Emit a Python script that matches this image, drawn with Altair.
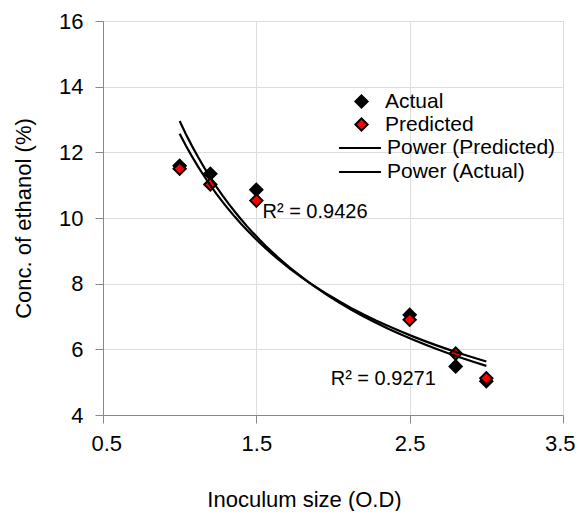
import altair as alt
import pandas as pd

# ---- data ----
inoculum = [1.0, 1.2, 1.5, 2.5, 2.8, 3.0]
actual = [11.59, 11.35, 10.86, 7.05, 5.48, 5.03]
predicted = [11.50, 11.02, 10.53, 6.90, 5.87, 5.12]

series_names = ["Actual", "Predicted"]
trend_names = ["Power (Predicted)", "Power (Actual)"]

r2_labels = ["R² = 0.9426", "R² = 0.9271"]
r2_x = [1.54, 1.985]
r2_y = [10.19, 5.09]

x_ticks = [0.5, 1.5, 2.5, 3.5]
y_ticks = [4, 6, 8, 10, 12, 14, 16]

rows = []
for name, vals in zip(series_names, [actual, predicted]):
    for xv, yv in zip(inoculum, vals):
        rows.append({"series": name, "x": xv, "y": yv})
df = pd.DataFrame(rows)
ann = pd.DataFrame({"x": r2_x, "y": r2_y, "label": r2_labels})

FONT = "Liberation Sans"

xenc = alt.X(
    "x:Q",
    scale=alt.Scale(domain=[0.5, 3.5], nice=False, zero=False),
    axis=alt.Axis(
        values=x_ticks, format=".1f", title="Inoculum size (O.D)",
        tickSize=8, labelPadding=10, labelFontSize=22, titleFontSize=22,
        titleX=201, titleY=91, titleBaseline="alphabetic", titleFontWeight="normal",
        labelFlush=True, labelFlushOffset=12,
    ),
)
yenc = alt.Y(
    "y:Q",
    scale=alt.Scale(domain=[4, 16], nice=False, zero=False),
    axis=alt.Axis(
        values=y_ticks, title="Conc. of  ethanol (%)",
        tickSize=8, labelPadding=12, labelFontSize=22, titleFontSize=22,
        titlePadding=23, titleFontWeight="normal",
    ),
)

base = alt.Chart(df)

points = base.mark_point(
    shape="diamond", filled=True, stroke="black", strokeWidth=2, size=150, opacity=1
).encode(
    x=xenc,
    y=yenc,
    fill=alt.Fill(
        "series:N",
        scale=alt.Scale(domain=series_names, range=["black", "red"]),
        legend=alt.Legend(
            title=None, orient="none", legendX=248, legendY=70,
            symbolType="diamond", symbolSize=150, symbolStrokeColor="black",
            symbolStrokeWidth=2, symbolOpacity=1, labelOffset=13, rowPadding=1,
            padding=0, labelFontSize=21, labelFont=FONT, labelColor="black",
            labelLimit=0,
        ),
    ),
)

lines = base.transform_regression(
    "x", "y", method="pow", groupby=["series"], extent=[1.0, 3.0]
).transform_calculate(
    trend="'Power (' + datum.series + ')'"
).mark_line(strokeWidth=2.2).encode(
    x="x:Q",
    y="y:Q",
    stroke=alt.Stroke(
        "trend:N",
        scale=alt.Scale(domain=trend_names, range=["black", "black"]),
        legend=alt.Legend(
            title=None, orient="none", legendX=245, legendY=115,
            symbolType="M-2,0H2", symbolSize=441, symbolStrokeWidth=2.2,
            labelOffset=15, rowPadding=2, padding=0,
            labelFontSize=21, labelFont=FONT, labelColor="black",
            labelLimit=0,
        ),
    ),
)

texts = alt.Chart(ann).mark_text(
    align="left", baseline="middle", fontSize=20, font=FONT, color="black"
).encode(x="x:Q", y="y:Q", text="label:N")

chart = alt.layer(points, lines, texts).properties(
    width=460,
    height=394,
    autosize=alt.AutoSizeParams(type="none"),
    padding={"left": 95, "top": 13, "right": 12, "bottom": 96},
).configure_view(stroke=None).configure_axis(
    grid=False, domainColor="black", tickColor="black", labelColor="black",
    titleColor="black", labelFont=FONT, titleFont=FONT,
).configure(background="white")

chart.save("out.html", embed_options={"renderer": "svg", "actions": False})
